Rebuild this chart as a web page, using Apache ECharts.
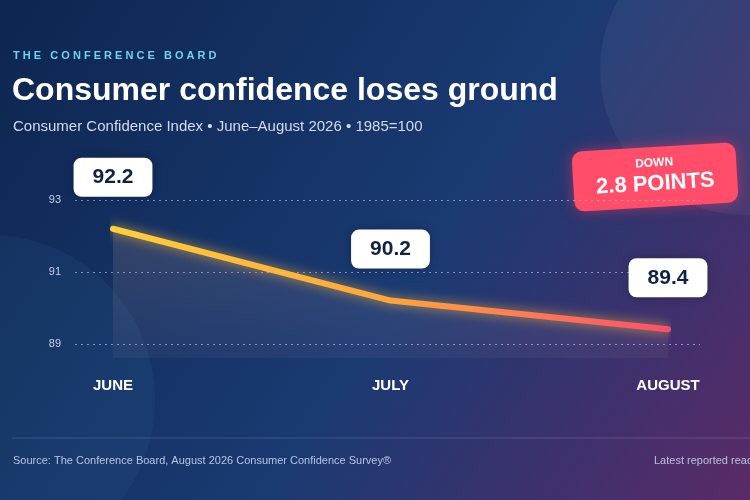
<!DOCTYPE html>
<html>
<head>
<meta charset="utf-8">
<script src="https://cdn.jsdelivr.net/npm/echarts@6/dist/echarts.min.js"></script>
<style>html,body{margin:0;padding:0;}#container{width:750px;height:500px;}</style>
</head>
<body>
<div id="container"></div>
<script>
var months = ['JUNE', 'JULY', 'AUGUST'];
var values = [92.2, 90.2, 89.4];
var yTicks = [89, 91, 93];

var dom = document.getElementById('container');
var myChart = echarts.init(dom);
var font = 'Liberation Sans, Arial, sans-serif';

var option = {
    backgroundColor: {
        type: 'linear', x: 0, y: 0, x2: 1, y2: 1,
        colorStops: [
            {offset: 0, color: '#0d2650'},
            {offset: 0.55, color: '#1a3a72'},
            {offset: 1, color: '#5a2a68'}
        ]
    },
    graphic: [
        {type: 'circle', shape: {cx: 745, cy: 70, r: 145}, style: {fill: 'rgba(255,255,255,0.05)'}, z: -1},
        {type: 'circle', shape: {cx: -10, cy: 400, r: 165}, style: {fill: 'rgba(80,150,200,0.08)'}, z: -1},
        {type: 'text', left: 13, top: 50, style: {text: 'T H E   C O N F E R E N C E   B O A R D', fill: '#6fd3f0', font: 'bold 11px ' + font}},
        {type: 'text', left: 12, top: 75, style: {text: 'Consumer confidence loses ground', fill: '#ffffff', font: 'bold 32px ' + font}},
        {type: 'text', left: 13, top: 119, style: {text: 'Consumer Confidence Index \u2022 June\u2013August 2026 \u2022 1985=100', fill: '#d4dcec', font: '15px ' + font}},
        {type: 'line', shape: {x1: 12, y1: 438, x2: 750, y2: 438}, style: {stroke: 'rgba(255,255,255,0.15)', lineWidth: 1}},
        {type: 'text', left: 13, top: 455, style: {text: 'Source: The Conference Board, August 2026 Consumer Confidence Survey\u00ae', fill: '#b8c4dc', font: '11px ' + font}},
        {type: 'text', left: 654, top: 455, style: {text: 'Latest reported reading', fill: '#b8c4dc', font: '11px ' + font}},
        {
            type: 'group', x: 655, y: 177, rotation: 0.06, z: 10,
            children: [
                {type: 'rect', shape: {x: -82, y: -30, width: 164, height: 60, r: 10}, style: {fill: '#ff4d6a', shadowBlur: 14, shadowColor: 'rgba(255,60,100,0.5)'}},
                {type: 'text', x: 0, y: -14, style: {text: 'DOWN', fill: '#fff', font: 'bold 12px ' + font, align: 'center', verticalAlign: 'middle'}},
                {type: 'text', x: 0, y: 7, style: {text: '2.8 POINTS', fill: '#fff', font: 'bold 22px ' + font, align: 'center', verticalAlign: 'middle'}}
            ]
        }
    ],
    grid: [
        {left: 113, right: 82, top: 200, bottom: 142},
        {left: 75, right: 50, top: 200, bottom: 156}
    ],
    xAxis: [
        {
            type: 'category', gridIndex: 0, data: months, boundaryGap: false,
            axisLine: {show: false}, axisTick: {show: false},
            axisLabel: {color: '#fff', fontFamily: font, fontWeight: 'bold', fontSize: 15, margin: 20}
        },
        {type: 'value', gridIndex: 1, show: false, min: 0, max: 1}
    ],
    yAxis: [
        {type: 'value', gridIndex: 0, min: 88.6, max: 93, show: false},
        {
            type: 'value', gridIndex: 1, min: 89, max: 93, interval: 2,
            axisLine: {show: false}, axisTick: {show: false},
            axisLabel: {color: '#c8d2e6', fontFamily: font, fontSize: 11, margin: 14,
                formatter: function (v) { return yTicks.indexOf(v) >= 0 ? v : ''; }},
            splitLine: {lineStyle: {color: 'rgba(255,255,255,0.45)', type: [2, 4]}}
        }
    ],
    series: [{
        type: 'line', xAxisIndex: 0, yAxisIndex: 0, data: values,
        showSymbol: true, symbol: 'circle', symbolSize: 2,
        itemStyle: {opacity: 0},
        lineStyle: {
            width: 6, cap: 'round',
            color: {type: 'linear', x: 0, y: 0, x2: 1, y2: 0,
                colorStops: [{offset: 0, color: '#ffd03a'}, {offset: 0.5, color: '#ffa53a'}, {offset: 1, color: '#ff4d6a'}]},
            shadowBlur: 12, shadowColor: 'rgba(255,190,60,0.7)'
        },
        areaStyle: {origin: 'start', color: {type: 'linear', x: 0, y: 0, x2: 0, y2: 1,
            colorStops: [{offset: 0, color: 'rgba(200,160,140,0.28)'}, {offset: 1, color: 'rgba(160,140,170,0.12)'}]}},
        label: {
            show: true, position: 'top', distance: 31, opacity: 1,
            backgroundColor: '#ffffff', borderRadius: 8, padding: [9, 19],
            color: '#0f2347', fontFamily: font, fontWeight: 'bold', fontSize: 21,
            shadowBlur: 8, shadowColor: 'rgba(0,0,0,0.25)'
        }
    }]
};

if (option && typeof option === 'object') {
    myChart.setOption(option, true);
}
</script>
</body>
</html>
